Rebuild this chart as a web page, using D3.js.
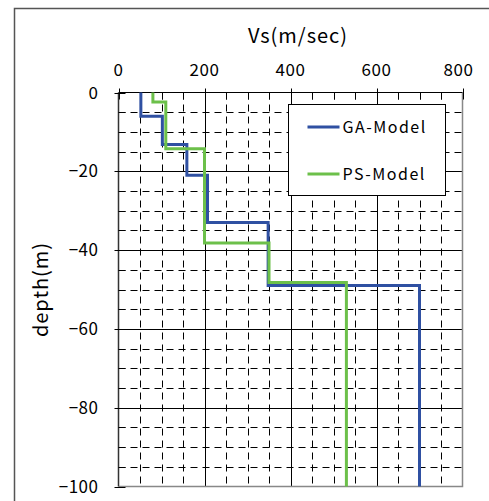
<!DOCTYPE html>
<html>
<head>
<meta charset="utf-8">
<script src="https://cdn.jsdelivr.net/npm/d3@7"></script>
<style>
  body { margin: 0; background: #fff; }
  text { font-family: "Noto Sans CJK JP", "Noto Sans", sans-serif; fill: #000; }
</style>
</head>
<body>
<div id="chart"></div>
<script>
// layer data: Vs (m/sec) and bottom depth (m) of each layer
var gaVs = [52, 102, 159, 207, 348, 700];
var gaDepth = [6, 13.2, 21, 33, 49, 100];
var psVs = [80, 110, 200, 350, 530];
var psDepth = [2.4, 14.3, 38.2, 48.2, 100];

var xTicks = [0, 200, 400, 600, 800];
var yTicks = [0, -20, -40, -60, -80, -100];
var seriesNames = ["GA-Model", "PS-Model"];
var seriesColors = ["#2f50a2", "#6cc04a"];

var width = 489, height = 501;

var svg = d3.select("#chart").append("svg")
    .attr("width", width)
    .attr("height", height);

// outer chart border
svg.append("rect")
    .attr("x", 14.5).attr("y", 8.5)
    .attr("width", 500).attr("height", 520)
    .style("fill", "none")
    .style("stroke", "#555")
    .style("stroke-width", 1.5);

var x = d3.scaleLinear().domain([0, 800]).range([118.5, 462.5]);
var y = d3.scaleLinear().domain([0, -100]).range([92.5, 486.5]);

// minor dashed grid
var grid = svg.append("g").attr("class", "grid");
grid.selectAll(".vminor")
    .data(d3.range(50, 800, 50).filter(function(v) { return v % 200 !== 0; }))
    .enter().append("line")
    .attr("x1", function(d) { return Math.round(x(d)) + 0.5; })
    .attr("x2", function(d) { return Math.round(x(d)) + 0.5; })
    .attr("y1", y(0)).attr("y2", y(-100))
    .style("stroke", "#000")
    .style("stroke-dasharray", "7,5");
grid.selectAll(".hminor")
    .data(d3.range(-5, -100, -5).filter(function(v) { return v % 20 !== 0; }))
    .enter().append("line")
    .attr("y1", function(d) { return Math.round(y(d)) + 0.5; })
    .attr("y2", function(d) { return Math.round(y(d)) + 0.5; })
    .attr("x1", x(0)).attr("x2", x(800))
    .style("stroke", "#000")
    .style("stroke-dasharray", "7,5");

// major solid grid
grid.selectAll(".vmajor")
    .data([200, 400, 600])
    .enter().append("line")
    .attr("x1", function(d) { return Math.round(x(d)) + 0.5; })
    .attr("x2", function(d) { return Math.round(x(d)) + 0.5; })
    .attr("y1", y(0)).attr("y2", y(-100))
    .style("stroke", "#000");
grid.selectAll(".hmajor")
    .data([-20, -40, -60, -80])
    .enter().append("line")
    .attr("y1", function(d) { return Math.round(y(d)) + 0.5; })
    .attr("y2", function(d) { return Math.round(y(d)) + 0.5; })
    .attr("x1", x(0)).attr("x2", x(800))
    .style("stroke", "#000");

// plot frame (right and bottom)
svg.append("path")
    .attr("d", "M" + x(800) + "," + y(0) + "V" + y(-100) + "H" + x(0))
    .style("fill", "none")
    .style("stroke", "#888")
    .style("stroke-width", 1.5);

// top axis
var xAxis = svg.append("g").attr("transform", "translate(0," + y(0) + ")");
xAxis.append("line")
    .attr("x1", x(0)).attr("x2", x(800))
    .style("stroke", "#000");
xAxis.selectAll(".minor")
    .data(d3.range(0, 801, 50))
    .enter().append("line")
    .attr("x1", function(d) { return Math.round(x(d)) + 0.5; })
    .attr("x2", function(d) { return Math.round(x(d)) + 0.5; })
    .attr("y1", function(d) { return d % 200 === 0 ? -4 : 0; })
    .attr("y2", 7)
    .style("stroke", "#000");
xAxis.selectAll(".lbl")
    .data(xTicks)
    .enter().append("text")
    .attr("x", function(d) { return x(d) - (d === 800 ? 4 : 0); })
    .attr("y", -17)
    .attr("text-anchor", "middle")
    .style("font-size", "17px")
    .style("letter-spacing", "0.5px")
    .text(function(d) { return d; });

svg.append("text")
    .attr("x", 298).attr("y", 43)
    .attr("text-anchor", "middle")
    .style("font-size", "20px")
    .style("letter-spacing", "1px")
    .text("Vs(m/sec)");

// left axis
var yAxis = svg.append("g").attr("transform", "translate(" + x(0) + ",0)");
yAxis.append("line")
    .attr("y1", y(0)).attr("y2", y(-100))
    .style("stroke", "#333")
    .style("stroke-width", 1.5);
yAxis.selectAll(".minor")
    .data(d3.range(0, -101, -5))
    .enter().append("line")
    .attr("y1", function(d) { return Math.round(y(d)) + 0.5; })
    .attr("y2", function(d) { return Math.round(y(d)) + 0.5; })
    .attr("x1", function(d) { return d % 20 === 0 ? -4 : 0; })
    .attr("x2", 7)
    .style("stroke", "#000");
yAxis.selectAll(".lbl")
    .data(yTicks)
    .enter().append("text")
    .attr("x", -20)
    .attr("y", function(d) { return y(d) + 6; })
    .attr("text-anchor", "end")
    .style("font-size", "17px")
    .style("letter-spacing", "0.5px")
    .text(function(d) { return d < 0 ? "\u2212" + Math.abs(d) : d; });

svg.append("text")
    .attr("transform", "translate(48," + ((y(0) + y(-100)) / 2) + ") rotate(-90)")
    .attr("text-anchor", "middle")
    .style("font-size", "20px")
    .style("letter-spacing", "1px")
    .text("depth(m)");

// step profile from layer velocities and bottom depths
function profile(vs, depth) {
  var pts = [[vs[0], 0]];
  vs.forEach(function(v, i) {
    pts.push([v, -depth[i]]);
    if (i + 1 < vs.length) pts.push([vs[i + 1], -depth[i]]);
  });
  return pts;
}

var line = d3.line()
    .x(function(d) { return x(d[0]); })
    .y(function(d) { return y(d[1]); });

var series = [profile(gaVs, gaDepth), profile(psVs, psDepth)];
svg.append("g").selectAll("path")
    .data(series)
    .enter().append("path")
    .attr("d", line)
    .style("fill", "none")
    .style("stroke", function(d, i) { return seriesColors[i]; })
    .style("stroke-width", 3);

// legend
var legend = svg.append("g").attr("transform", "translate(288.5,104.5)");
legend.append("rect")
    .attr("width", 157).attr("height", 91)
    .style("fill", "#fff")
    .style("stroke", "#000");
var item = legend.selectAll(".item")
    .data(seriesNames)
    .enter().append("g")
    .attr("transform", function(d, i) { return "translate(0," + (22.5 + i * 47) + ")"; });
item.append("line")
    .attr("x1", 19).attr("x2", 51)
    .style("stroke", function(d, i) { return seriesColors[i]; })
    .style("stroke-width", 3);
item.append("text")
    .attr("x", 54).attr("y", 6)
    .style("font-size", "16px")
    .style("letter-spacing", "1.5px")
    .text(function(d) { return d; });
</script>
</body>
</html>
